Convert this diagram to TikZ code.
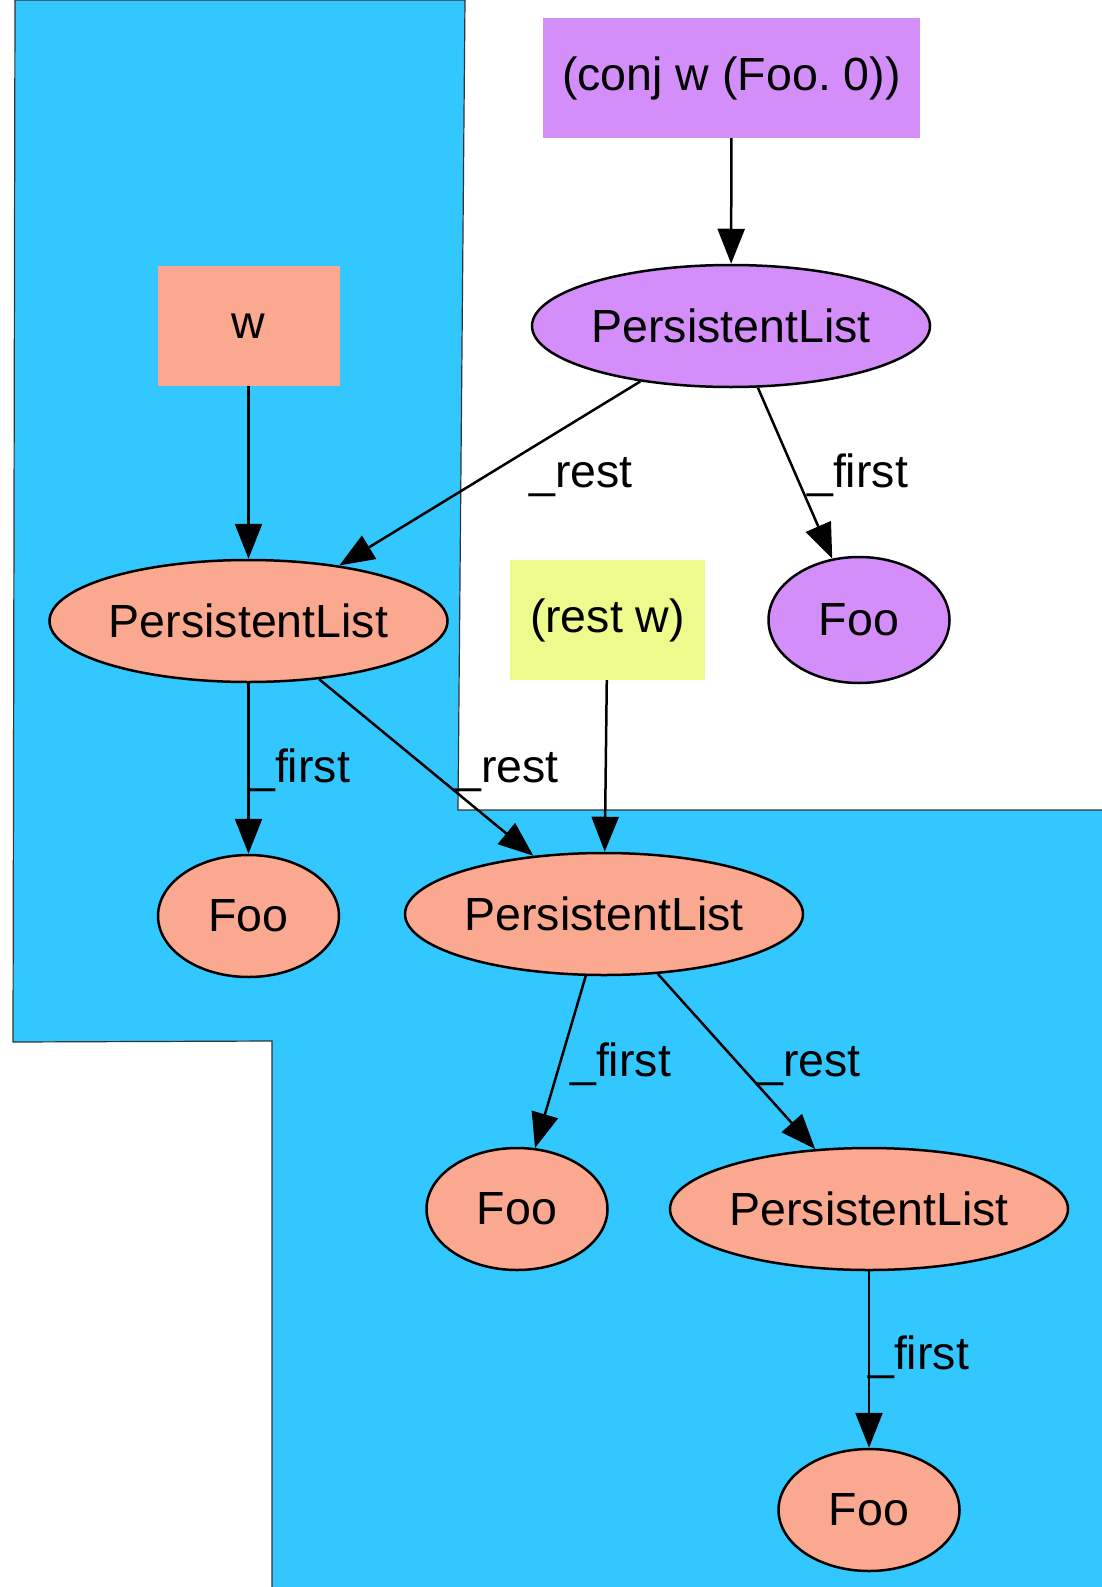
\documentclass[tikz,border=0pt]{standalone}
\usepackage{fontspec}
\setmainfont{Liberation Sans}
\usetikzlibrary{shapes.geometric,arrows.meta}
\definecolor{bluebg}{RGB}{51,199,255}
\definecolor{salmonc}{RGB}{250,168,143}
\definecolor{plumc}{RGB}{212,142,249}
\definecolor{limec}{RGB}{238,250,140}
\begin{document}
\begin{tikzpicture}[x=1pt,y=-1pt,
  font=\fontsize{46.5}{56}\selectfont,
  ell/.style={ellipse, draw=black, line width=2.5pt, inner sep=0pt, minimum width=398pt, minimum height=122pt},
  fooell/.style={ellipse, draw=black, line width=2.5pt, inner sep=0pt, minimum width=181pt, minimum height=122pt},
  boxnode/.style={rectangle, inner sep=0pt, minimum height=120pt},
  edge/.style={line width=2.5pt, -{Triangle[length=35pt,width=27pt]}},
  lbl/.style={anchor=base west, inner sep=0pt}]
\useasboundingbox (0,0) rectangle (1102,1587);
\draw[fill=bluebg, draw=black!80, line width=1.2pt]
  (15,0) -- (465,0) -- (458,810) -- (1103,810) -- (1103,1588) -- (272,1588) -- (272,1041) -- (13,1042) -- cycle;

\node[boxnode, fill=plumc, minimum width=377pt] (conj) at (731.5,78) {(conj w (Foo.\ 0))};
\node[boxnode, fill=salmonc, minimum width=182pt] (w) at (248.5,326) {w};
\node[boxnode, fill=limec, minimum width=195pt] (restw) at (607.5,620) {(rest w)};

\node[ell, fill=plumc] (pl1) at (731,326) {PersistentList};
\node[fooell, fill=plumc, minimum height=126pt] (foo1) at (859,620) {Foo};
\node[ell, fill=salmonc] (pl2) at (248.5,621) {PersistentList};
\node[fooell, fill=salmonc] (foo2) at (248.5,916) {Foo};
\node[ell, fill=salmonc] (pl3) at (604,914) {PersistentList};
\node[fooell, fill=salmonc] (foo3) at (517,1209) {Foo};
\node[ell, fill=salmonc] (pl4) at (869,1209) {PersistentList};
\node[fooell, fill=salmonc] (foo4) at (869,1510) {Foo};

\draw[edge] (conj) -- (pl1);
\draw[edge] (pl1) -- (pl2);
\draw[edge] (pl1) -- (foo1);
\draw[edge] (w) -- (pl2);
\draw[edge] (pl2) -- (foo2);
\draw[edge] (pl2) -- (pl3);
\draw[edge] (restw) -- (pl3);
\draw[edge] (pl3) -- (foo3);
\draw[edge] (pl3) -- (pl4);
\draw[edge] (pl4) -- (foo4);

\node[lbl] (l1) at (529,487) {\_rest};
\node[lbl] (l2) at (807,487) {\_first};
\node[lbl] (l3) at (249,782) {\_first};
\node[lbl] (l4) at (455,782) {\_rest};
\node[lbl] (l5) at (570,1076) {\_first};
\node[lbl] (l6) at (757,1076) {\_rest};
\node[lbl] (l7) at (868,1369) {\_first};
\end{tikzpicture}
\end{document}
